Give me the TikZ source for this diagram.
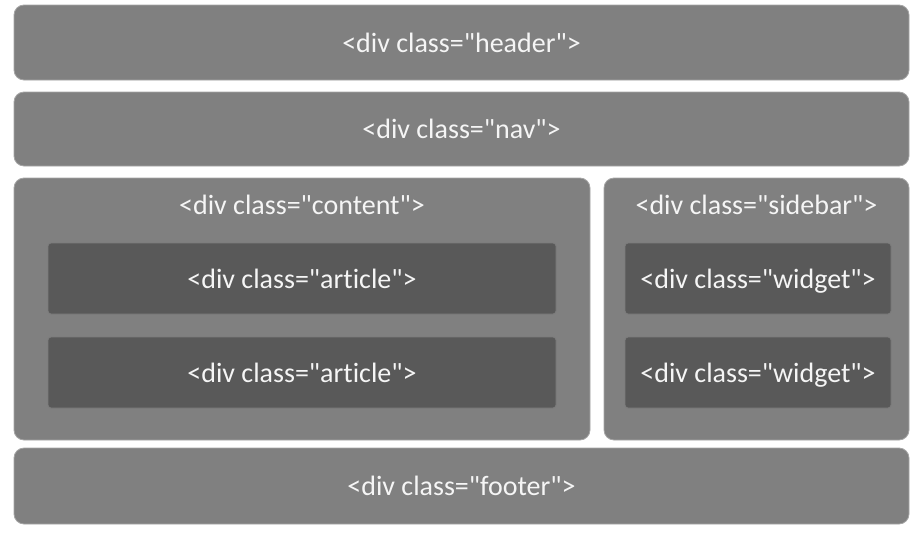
\documentclass[tikz,border=0pt]{standalone}
\usepackage{fontspec}
\setmainfont{Carlito}[Ligatures=NoCommon]
\usetikzlibrary{positioning}
\definecolor{outergray}{RGB}{128, 128, 128}
\definecolor{outerline}{RGB}{165, 165, 165}
\definecolor{innergray}{RGB}{89, 89, 89}
\definecolor{innerline}{RGB}{125, 125, 125}
\definecolor{divtext}{RGB}{245, 245, 245}
\newcommand{\dq}{\textquotedbl{}}
\tikzset{
  divbox/.style={draw=outerline, fill=outergray, rounded corners=10pt, line width=0.8pt, inner sep=0pt},
  subbox/.style={draw=innerline, fill=innergray, rounded corners=3pt, line width=0.8pt, inner sep=0pt},
  divlabel/.style={text=divtext, font=\fontsize{28}{32}\selectfont, text height=21pt, text depth=2pt}
}

\begin{document}
\begin{tikzpicture}[x=1pt, y=-1pt]
  \useasboundingbox (0,0) rectangle (923,541);

  % Header and nav
  \node[divbox, minimum width=895pt, minimum height=75pt, divlabel] (header) at (461.5, 42.5) {<div class=\dq header\dq>};
  \node[divbox, minimum width=895pt, minimum height=74pt, divlabel] (nav) at (461.5, 129) {<div class=\dq nav\dq>};

  % Content
  \node[divbox, minimum width=576pt, minimum height=262pt] (content) at (302, 309) {};
  \node[divlabel] (contentlabel) at (302, 205) {<div class=\dq content\dq>};
  \node[subbox, minimum width=508pt, minimum height=71pt, divlabel] (article1) at (302, 278.5) {<div class=\dq article\dq>};
  \node[subbox, minimum width=508pt, minimum height=71pt, divlabel] (article2) at (302, 372.5) {<div class=\dq article\dq>};

  % Sidebar
  \node[divbox, minimum width=305pt, minimum height=262pt] (sidebar) at (756.5, 309) {};
  \node[divlabel] (sidebarlabel) at (756.5, 205) {<div class=\dq sidebar\dq>};
  \node[subbox, minimum width=266pt, minimum height=71pt, divlabel] (widget1) at (758, 278.5) {<div class=\dq widget\dq>};
  \node[subbox, minimum width=266pt, minimum height=71pt, divlabel] (widget2) at (758, 372.5) {<div class=\dq widget\dq>};

  % Footer
  \node[divbox, minimum width=895pt, minimum height=76pt, divlabel] (footer) at (461.5, 486) {<div class=\dq footer\dq>};
\end{tikzpicture}
\end{document}
